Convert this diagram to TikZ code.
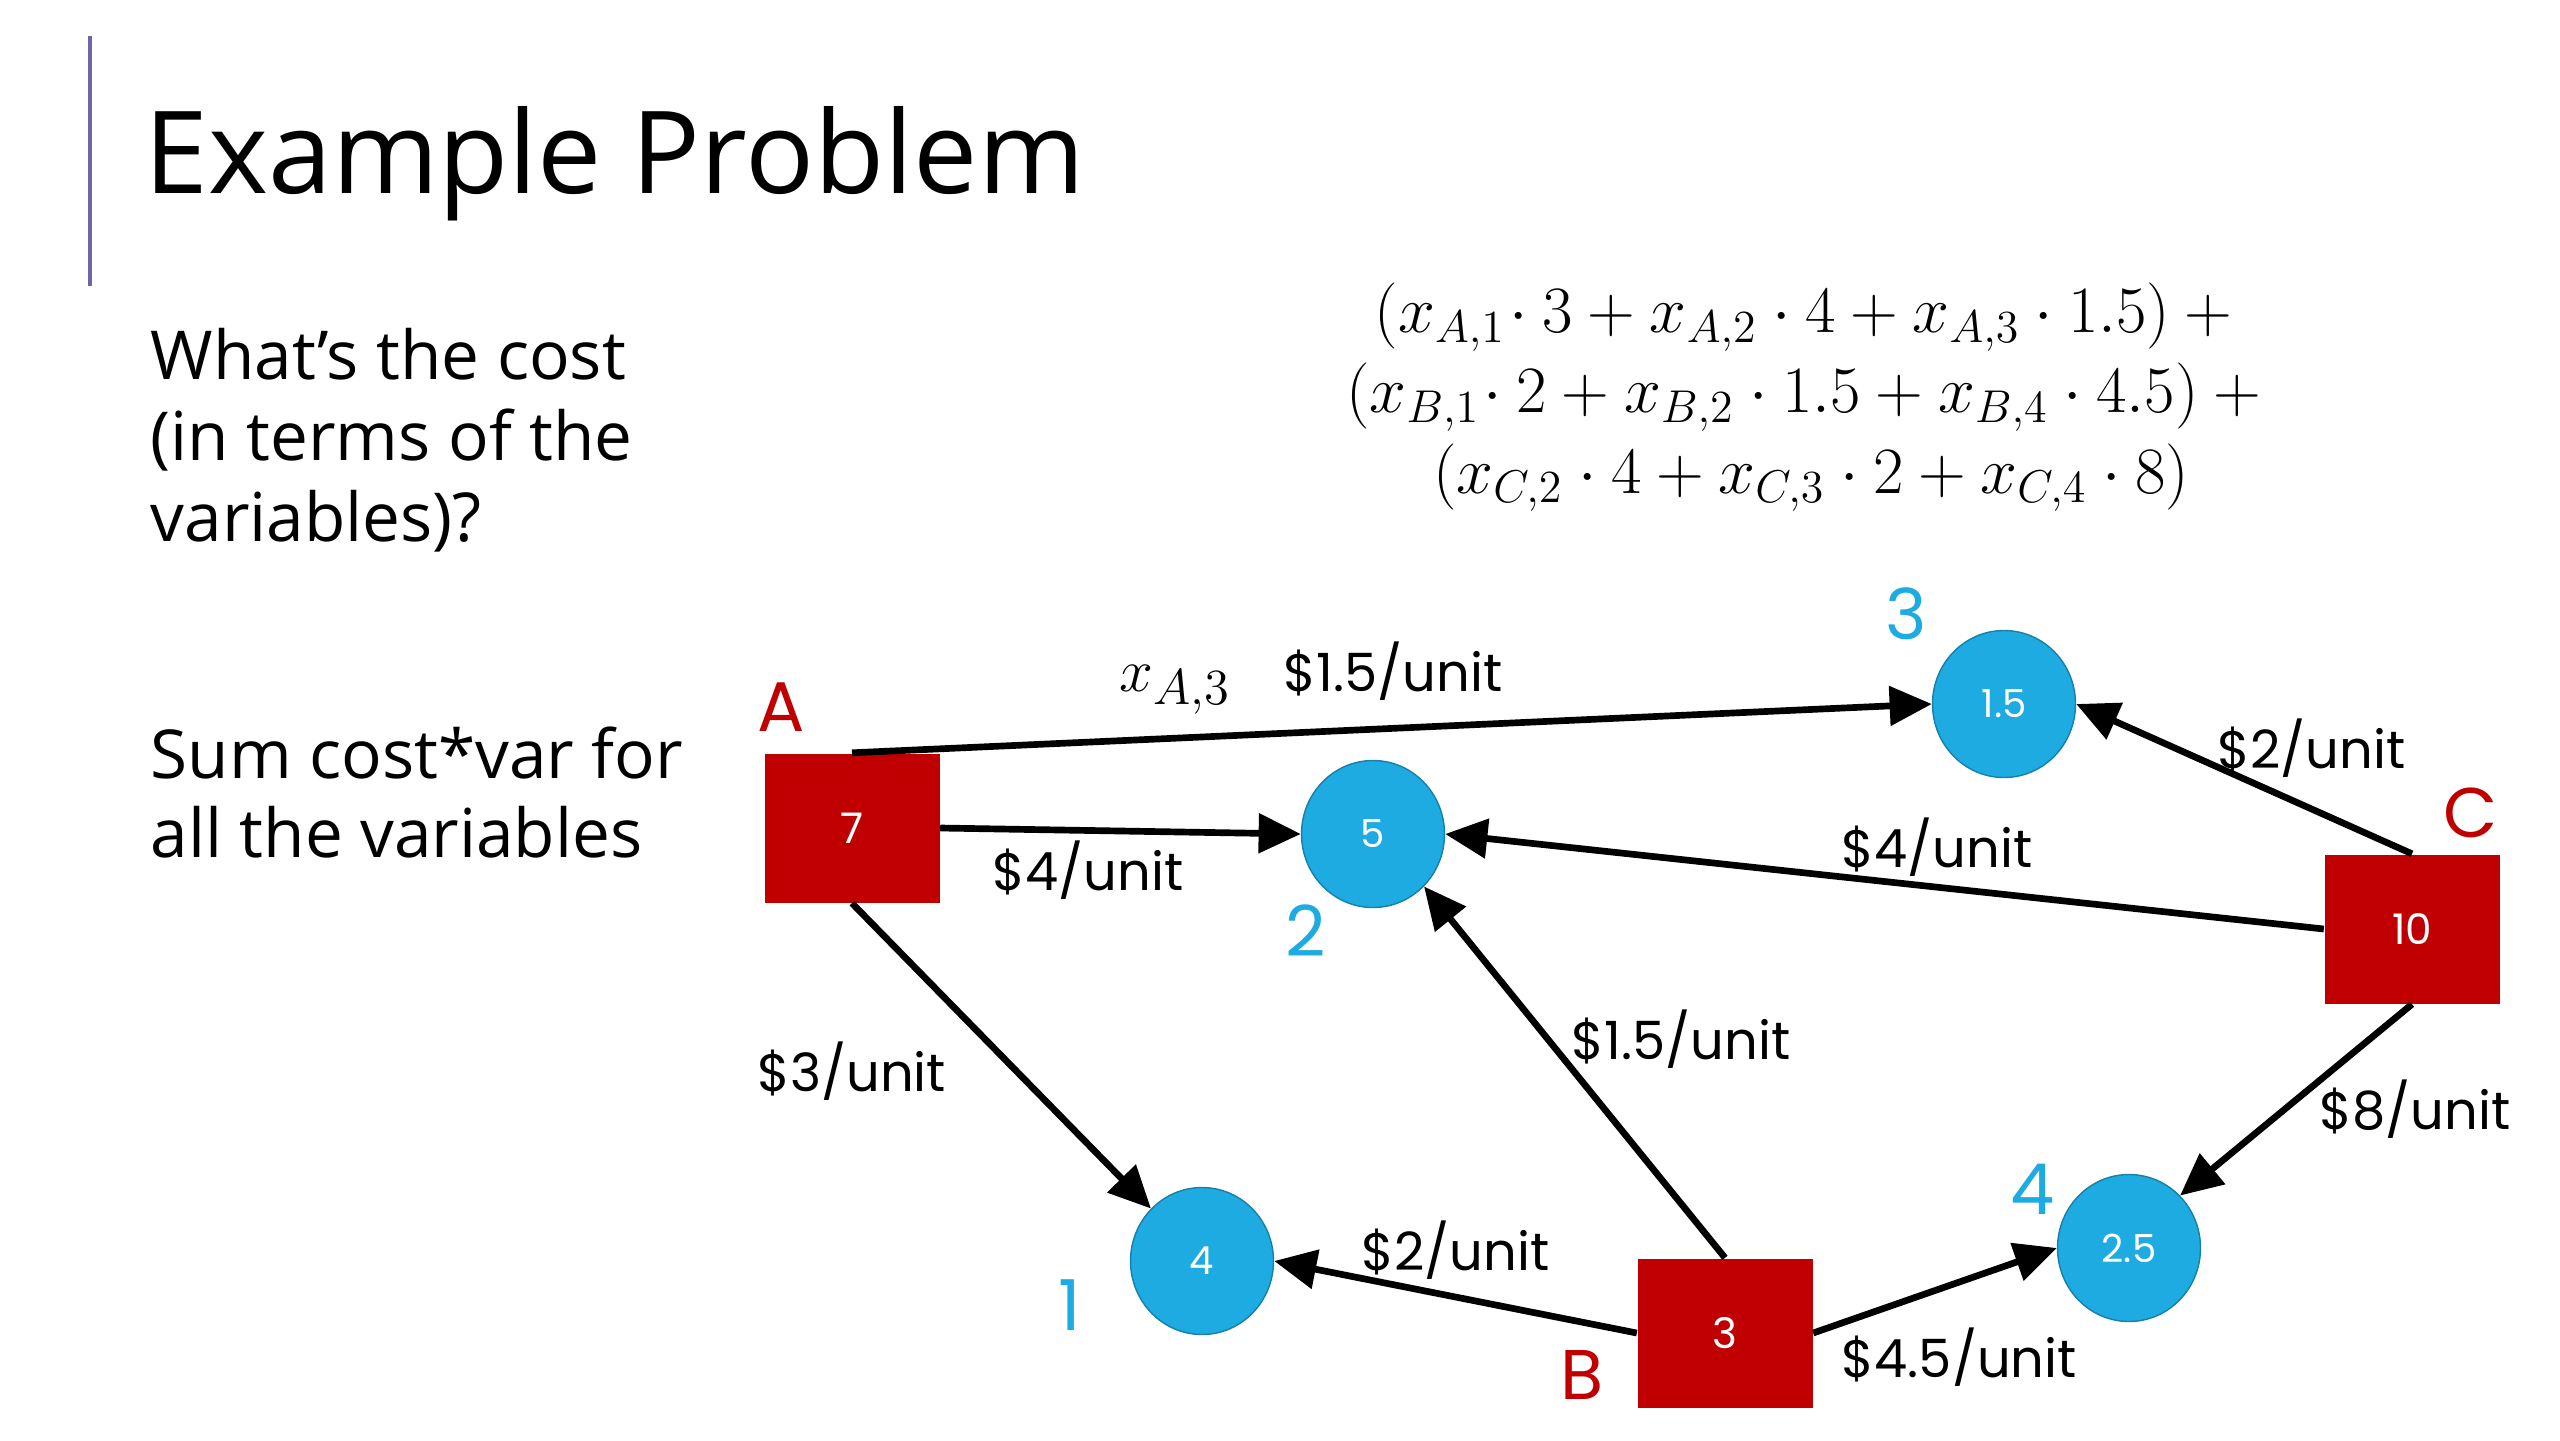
\documentclass[tikz,border=0pt]{standalone}
\usepackage{fontspec}
\usetikzlibrary{arrows.meta,shapes.geometric}
\newfontfamily\slidefont{Open Sans}
\newfontfamily\netfont{Poppins}
\definecolor{supplyred}{RGB}{192,0,0}
\definecolor{demandblue}{RGB}{29,171,226}
\definecolor{barpurple}{RGB}{112,100,168}

\tikzstyle{supply}=[rectangle, fill=supplyred, text=white, minimum width=1.75cm, minimum height=1.49cm, inner sep=0pt, font=\netfont\fontsize{12}{14}\selectfont]
\tikzstyle{demand}=[ellipse, fill=demandblue, draw=demandblue!75!black, thin, text=white, minimum width=1.43cm, minimum height=1.47cm, inner sep=0pt, font=\netfont\fontsize{11}{13}\selectfont]
\tikzstyle{pointto}=[-{Triangle[length=12pt,width=11pt]}, line width=1.9pt]
\tikzstyle{cost}=[font=\netfont\fontsize{15}{18}\selectfont, inner sep=2pt]
\tikzstyle{srcname}=[text=supplyred, font=\netfont\fontsize{20}{24}\selectfont]
\tikzstyle{sinkname}=[text=demandblue, font=\netfont\fontsize{20}{24}\selectfont]

\begin{document}
\begin{tikzpicture}
\useasboundingbox (0,0) rectangle (25.6,-14.4);
\draw[barpurple, line width=1.2pt] (0.90,-0.36) -- (0.90,-2.86);
\node[anchor=base west, inner sep=0pt, font=\slidefont\fontsize{32.6}{40}\selectfont] (title) at (1.44,-1.93) {Example Problem};
\node[anchor=base west, inner sep=0pt, align=left, font=\slidefont\fontsize{19.2}{23}\selectfont] (ask) at (1.50,-5.41) {What’s the cost\\(in terms of the\\variables)?};
\node[anchor=base west, inner sep=0pt, align=left, font=\slidefont\fontsize{19.2}{22.2}\selectfont] (hint) at (1.50,-8.57) {Sum cost*var for\\all the variables};
\node[anchor=base, inner sep=0pt, align=center, scale=1.09, transform shape, font=\fontsize{17.28}{21}\selectfont] (total) at (18.11,-4.93)
  {$(x_{A,1}\!\cdot 3 + x_{A,2}\cdot 4 + x_{A,3}\cdot 1.5) +{}$\\
   $(x_{B,1}\!\cdot 2 + x_{B,2}\cdot 1.5 + x_{B,4}\cdot 4.5) +{}$\\
   $(x_{C,2}\cdot 4 + x_{C,3}\cdot 2 + x_{C,4}\cdot 8)$};

% supplies
\node[supply] (A) at (8.52,-8.28)  {7};
\node[supply] (B) at (17.25,-13.33) {3};
\node[supply] (C) at (24.12,-9.29) {10};
% demands
\node[demand] (D1) at (12.02,-12.61) {4};
\node[demand] (D2) at (13.73,-8.34)  {5};
\node[demand] (D3) at (20.04,-7.04)  {1.5};
\node[demand] (D4) at (21.29,-12.48) {2.5};

\node[srcname] (nA) at (7.81,-7.07) {A};
\node[srcname] (nB) at (15.82,-13.75) {B};
\node[srcname] (nC) at (24.71,-8.13) {C};
\node[sinkname] (n1) at (10.70,-13.05) {1};
\node[sinkname] (n2) at (13.06,-9.31) {2};
\node[sinkname] (n3) at (19.06,-6.14) {3};
\node[sinkname] (n4) at (20.33,-11.89) {4};

\draw[pointto] (A.north) to node[cost, pos=0.425, above=2pt] {{\fontsize{19}{22}\selectfont$x_{A,3}$}\quad \$1.5/unit} (D3.west);
\draw[pointto] (A.east) to node[cost, pos=0.41, below=0pt] {\$4/unit} (D2.west);
\draw[pointto] (A.south) to node[cost, pos=0.55, left=0.6cm] {\$3/unit} (D1.north west);
\draw[pointto] (B.west) to node[cost, pos=0.5, above=2pt] {\$2/unit} (D1.east);
\draw[pointto] (B.north) to node[cost, pos=0.59, right=4pt] {\$1.5/unit} (D2.south east);
\draw[pointto] (B.east) to node[cost, pos=0.6, below=10pt] {\$4.5/unit} (D4.west);
\draw[pointto] (C.west) to node[cost, pos=0.44, above=0pt] {\$4/unit} (D2.east);
\draw[pointto] (C.north) to node[cost, pos=0.3, above=6pt] {\$2/unit} (D3.east);
\draw[pointto] (C.south) to node[cost, pos=0.55, right=0.25cm] {\$8/unit} (D4.north east);
\end{tikzpicture}
\end{document}
